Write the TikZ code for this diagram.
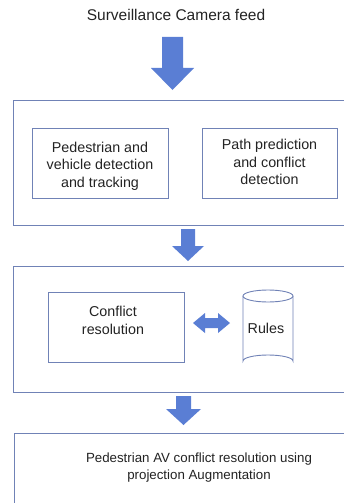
\documentclass[tikz,border=0pt]{standalone}
\usepackage{fontspec}
\setmainfont{Liberation Sans}
\definecolor{arrowblue}{RGB}{90,126,212}
\definecolor{boxline}{RGB}{112,130,182}
\definecolor{txt}{RGB}{35,35,35}
\newcommand{\ctext}[1]{\begin{tabular}{@{}c@{}}#1\end{tabular}}
\tikzset{
  outerbox/.style={draw=boxline, line width=0.9pt, fill=white, rectangle, inner sep=0pt, anchor=north west},
  innerbox/.style={draw=boxline, line width=0.9pt, fill=white, rectangle, inner sep=0pt},
  lbl/.style={text=txt, font=\fontsize{14.3}{17.5}\selectfont, inner sep=0pt},
  blockarrow/.style={fill=arrowblue, draw=none}
}
\begin{document}
\begin{tikzpicture}[x=1pt,y=-1pt]
\useasboundingbox (0,0) rectangle (344,503);
\clip (0,0) rectangle (344,503);
% title
\node[text=txt, font=\fontsize{15.5}{18}\selectfont, inner sep=0pt] (title) at (176,15) {Surveillance Camera feed};
% arrow 1
\fill[blockarrow] (162,37) -- (183,37) -- (183,68) -- (194,68) -- (172.5,90) -- (151,68) -- (162,68) -- cycle;
% box 1
\node[outerbox, minimum width=350pt, minimum height=125.5pt] (b1) at (13,99.5) {};
\node[innerbox, minimum width=136pt, minimum height=70pt] (pa) at (100,163) {};
\node[lbl] (pat) at (100,166) {\ctext{Pedestrian and\\vehicle detection\\and tracking}};
\node[innerbox, minimum width=135pt, minimum height=70pt] (pb) at (269.5,163) {};
\node[lbl] (pbt) at (269.5,163.5) {\ctext{Path prediction\\and conflict\\detection}};
% arrow 2
\fill[blockarrow] (181,229) -- (195,229) -- (195,246) -- (204,246) -- (188,261) -- (172,246) -- (181,246) -- cycle;
% box 2
\node[outerbox, minimum width=350pt, minimum height=126pt] (b2) at (13,266) {};
\node[innerbox, minimum width=136pt, minimum height=70pt] (cr) at (116,327) {};
\node[lbl] (crt) at (113,322) {\ctext{Conflict\\resolution}};
% double arrow
\fill[blockarrow] (193,323) -- (205,313) -- (205,318) -- (218,318) -- (218,313) -- (230,323) -- (218,333) -- (218,328) -- (205,328) -- (205,333) -- cycle;
% cylinder
\draw[draw=boxline, line width=0.9pt, fill=white] (243,296) -- (243,361) arc[start angle=180, end angle=360, x radius=25, y radius=6] -- (293,296);
\draw[draw=boxline, line width=0.9pt, fill=white] (268,296) ellipse[x radius=25, y radius=6];
\node[lbl] (rules) at (266,328) {Rules};
% arrow 3
\fill[blockarrow] (176,396) -- (191,396) -- (191,409) -- (201,409) -- (183.5,425) -- (166,409) -- (176,409) -- cycle;
% box 3
\node[outerbox, minimum width=350pt, minimum height=90pt] (b3) at (14,433) {};
\node[lbl, font=\fontsize{13.3}{17}\selectfont] (res) at (199,468) {\ctext{Pedestrian AV conflict resolution using\\projection Augmentation}};
\end{tikzpicture}
\end{document}
